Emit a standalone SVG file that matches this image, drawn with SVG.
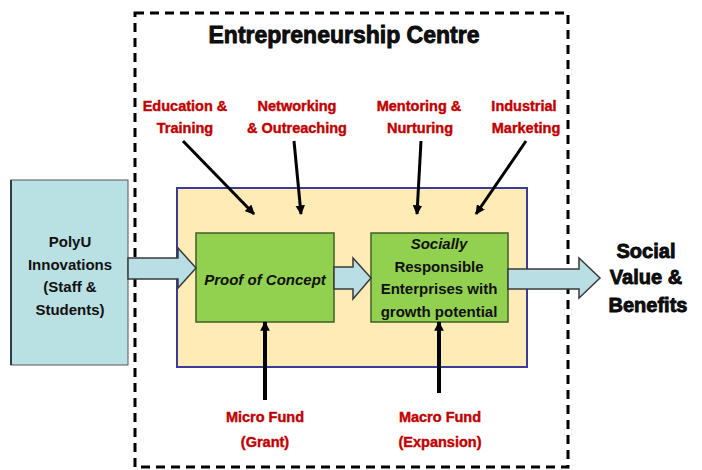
<svg xmlns="http://www.w3.org/2000/svg" width="702" height="470" viewBox="0 0 702 470">
<defs>
<style>
.lbl{font-family:"Liberation Sans",Arial,sans-serif;font-weight:bold;font-size:14.5px;fill:#C00000;stroke:#C00000;stroke-width:0.4;text-anchor:middle}
.blk{font-family:"Liberation Sans",Arial,sans-serif;font-weight:bold;fill:#111;text-anchor:middle}
.heavy{stroke:#000;stroke-width:0.8}
.t15{font-size:15px}
.flow{fill:#B9DFE4;stroke:#3a3a3a;stroke-width:1.5;stroke-linejoin:miter}
.ptr{stroke:#000;stroke-width:3;fill:none;marker-end:url(#ah)}
.ptrb{stroke:#000;stroke-width:4;fill:none;marker-end:url(#ahb)}
.green{fill:#92D050;stroke:#3f5f2a;stroke-width:1.5}
</style>
<marker id="ah" viewBox="0 0 10 10" refX="9" refY="5" markerWidth="3.2" markerHeight="3.2" orient="auto" markerUnits="strokeWidth">
<path d="M0,0 L10,5 L0,10 z" fill="#000"/>
</marker>
<marker id="ahb" viewBox="0 0 10 10" refX="9" refY="5" markerWidth="2.4" markerHeight="2.4" orient="auto" markerUnits="strokeWidth">
<path d="M0,0 L10,5 L0,10 z" fill="#000"/>
</marker>
</defs>
<rect width="702" height="470" fill="#fff"/>

<g id="frame">
<rect x="135" y="13" width="433" height="454" fill="none" stroke="#000" stroke-width="3" stroke-dasharray="9 6"/>
<text class="blk heavy" x="344" y="43" font-size="23">Entrepreneurship Centre</text>
</g>

<g id="polyu">
<rect x="11" y="180" width="117" height="185" fill="#B9E0E3" stroke="#555" stroke-width="1"/>
<line x1="11" y1="180" x2="11" y2="365" stroke="#2e3e3e" stroke-width="2"/>
<text class="blk t15" x="70" y="247">PolyU</text>
<text class="blk t15" x="70" y="270">Innovations</text>
<text class="blk t15" x="70" y="292">(Staff &amp;</text>
<text class="blk t15" x="70" y="315">Students)</text>
</g>

<g id="centre-box">
<rect x="177" y="188" width="350" height="179" fill="#FEEBB6" stroke="#3b3b9c" stroke-width="2"/>
</g>

<g id="proof">
<rect class="green" x="196" y="233" width="138" height="89"/>
<text class="blk t15" x="265" y="285" font-style="italic">Proof of Concept</text>
</g>

<g id="sre">
<rect class="green" x="371" y="233" width="137" height="89"/>
<text class="blk t15" x="439" y="249" font-style="italic">Socially</text>
<text class="blk t15" x="439" y="272">Responsible</text>
<text class="blk t15" x="439" y="294">Enterprises with</text>
<text class="blk t15" x="439" y="317">growth potential</text>
</g>

<g id="social">
<text class="blk heavy" x="646" y="258" font-size="20">Social</text>
<text class="blk heavy" x="646" y="284" font-size="20">Value &amp;</text>
<text class="blk heavy" x="648" y="312" font-size="20">Benefits</text>
</g>

<g id="edu"><text class="lbl" x="185" y="111">Education &amp;</text><text class="lbl" x="185" y="133">Training</text></g>
<g id="net"><text class="lbl" x="297" y="111">Networking</text><text class="lbl" x="297" y="133">&amp; Outreaching</text></g>
<g id="ment"><text class="lbl" x="419" y="111">Mentoring &amp;</text><text class="lbl" x="420" y="133">Nurturing</text></g>
<g id="ind"><text class="lbl" x="524" y="111">Industrial</text><text class="lbl" x="526" y="133">Marketing</text></g>
<g id="micro"><text class="lbl" x="265" y="422">Micro Fund</text><text class="lbl" x="265" y="447">(Grant)</text></g>
<g id="macro"><text class="lbl" x="440" y="422">Macro Fund</text><text class="lbl" x="440" y="447">(Expansion)</text></g>

<g id="connectors">
<polygon class="flow" points="128,258 178,258 178,248 196,268 178,288 178,279 128,279"/>
<polygon class="flow" points="334,267 353,267 353,258 371,278 353,299 353,289 334,289"/>
<polygon class="flow" points="508,269 579,269 579,258 600,278 579,298 579,289 508,289"/>
<line class="ptr" x1="183" y1="141" x2="254" y2="214"/>
<line class="ptr" x1="294" y1="141" x2="301" y2="214"/>
<line class="ptr" x1="421" y1="141" x2="417" y2="214"/>
<line class="ptr" x1="526" y1="141" x2="476" y2="214"/>
<line class="ptrb" x1="265" y1="400" x2="265" y2="322"/>
<line class="ptrb" x1="439" y1="393" x2="439" y2="322"/>
</g>
</svg>
